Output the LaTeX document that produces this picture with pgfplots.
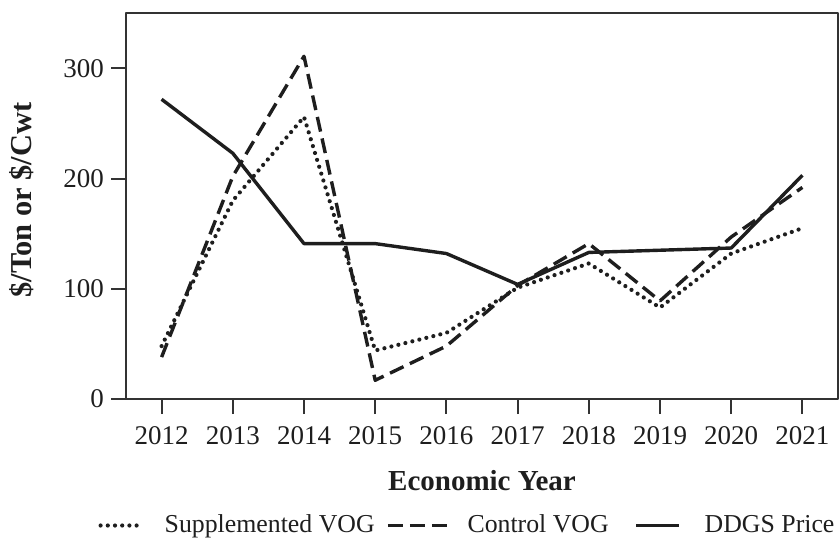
\documentclass[border=0pt]{standalone}
\usepackage{fontspec}
\setmainfont{Liberation Serif}
\usepackage{pgfplots}
\pgfplotsset{compat=1.18}
\pgfplotsset{longleg/.style={legend image code/.code={\draw[##1] (0pt,0pt) -- (29.5pt,0pt);}}}
\definecolor{ink}{HTML}{1E1E1E}
\definecolor{axisc}{HTML}{333333}
\begin{document}
\begin{tikzpicture}
\useasboundingbox (-63pt,-70.5pt) rectangle (357pt,199.5pt);
\begin{axis}[
  at={(0,0)}, anchor=south west,
  scale only axis, width=356pt, height=192.85pt,
  xmin=2011.5, xmax=2021.5, ymin=0, ymax=350,
  xtick={2012,2013,2014,2015,2016,2017,2018,2019,2020,2021},
  ytick={0,100,200,300},
  tick align=outside, xtick pos=bottom, ytick pos=left,
  major tick length=7.5pt,
  axis line style={line width=1pt, axisc},
  every tick/.style={line width=1pt, axisc},
  /pgf/number format/assume math mode=true,
  /pgf/number format/1000 sep={},
  tick label style={font=\fontsize{13.5}{16}\selectfont, text=ink},
  xticklabel style={yshift=-2.5pt},
  xlabel={Economic Year},
  ylabel={\$/Ton or \$/Cwt},
  xlabel style={at={(axis description cs:0.5,-0.236)}, anchor=base, font=\fontsize{14.5}{17}\selectfont\bfseries, text=ink},
  ylabel style={at={(axis description cs:-0.1334,0.5156)}, anchor=base, rotate=0, font=\fontsize{15.2}{18}\selectfont\bfseries, text=ink},
  legend style={at={(axis description cs:0.481,-0.328)}, anchor=center, legend columns=3, draw=none, fill=none,
    font=\fontsize{12.9}{15}\selectfont, text=ink,
    /tikz/every odd column/.append style={column sep=7.5pt},
    /tikz/every even column/.append style={column sep=3.75pt}},
  legend image code/.code={\draw[#1] (0pt,0pt) -- (21.5pt,0pt);},
  line join=round,
]
\addplot[ink, line width=2.1pt, dash pattern=on 0pt off 3.6pt, line cap=round] coordinates {
  (2012,48) (2013,180) (2014,256) (2015,44) (2016,60) (2017,101) (2018,123) (2019,83) (2020,132) (2021,155)};
\addlegendentry{Supplemented VOG}
\addplot[ink, line width=1.7pt, dash pattern=on 7.5pt off 3.5pt, longleg] coordinates {
  (2012,38) (2013,202) (2014,311) (2015,17) (2016,48) (2017,103) (2018,141) (2019,89) (2020,147) (2021,192)};
\addlegendentry{Control VOG\rule{7.25pt}{0pt}}
\addplot[ink, line width=1.7pt] coordinates {
  (2012,272) (2013,223) (2014,141) (2015,141) (2016,132) (2017,104) (2018,133) (2019,135) (2020,137) (2021,203)};
\addlegendentry{\rule{2.3pt}{0pt}DDGS Price}
\end{axis}
\end{tikzpicture}
\end{document}
